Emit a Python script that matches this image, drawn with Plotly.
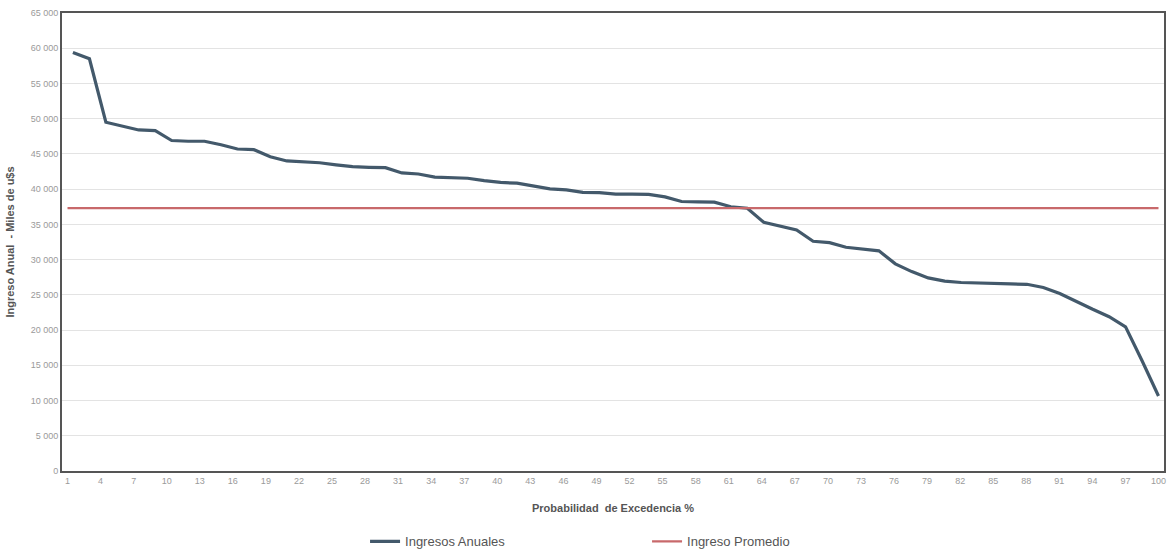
import plotly.graph_objects as go

# Probabilidad de excedencia (%) de cada año de la serie
prob_excedencia = [1.49, 2.99, 4.48, 5.97, 7.46, 8.96, 10.45, 11.94, 13.43, 14.93,
                   16.42, 17.91, 19.40, 20.90, 22.39, 23.88, 25.37, 26.87, 28.36, 29.85,
                   31.34, 32.84, 34.33, 35.82, 37.31, 38.81, 40.30, 41.79, 43.28, 44.78,
                   46.27, 47.76, 49.25, 50.75, 52.24, 53.73, 55.22, 56.72, 58.21, 59.70,
                   61.19, 62.69, 64.18, 65.67, 67.16, 68.66, 70.15, 71.64, 73.13, 74.63,
                   76.12, 77.61, 79.10, 80.60, 82.09, 83.58, 85.07, 86.57, 88.06, 89.55,
                   91.04, 92.54, 94.03, 95.52, 97.01, 98.51, 100.00]

# Ingresos anuales (miles de u$s)
ingresos_anuales = [59400, 58500, 49500, 48900, 48400, 48300, 46900, 46800, 46800, 46300,
                    45700, 45600, 44600, 44000, 43900, 43750, 43450, 43200, 43100, 43050,
                    42300, 42150, 41700, 41650, 41550, 41200, 40950, 40850, 40450, 40050,
                    39900, 39550, 39500, 39300, 39300, 39250, 38900, 38250, 38200, 38150,
                    37500, 37300, 35300, 34700, 34200, 32600, 32400, 31750, 31500, 31250,
                    29400, 28300, 27400, 26950, 26750, 26650, 26600, 26550, 26500, 26050,
                    25200, 24050, 22950, 21900, 20450, 15650, 10650]

# Ingreso promedio
promedio_x = [1, 100]
promedio_y = [37300, 37300]

# Etiquetas del eje X
x_ticks = [1, 4, 7, 10, 13, 16, 19, 22, 25, 28, 31, 34, 37, 40, 43, 46, 49, 52, 55,
           58, 61, 64, 67, 70, 73, 76, 79, 82, 85, 88, 91, 94, 97, 100]

FONT = "Liberation Sans, Arial, sans-serif"

fig = go.Figure()
fig.add_trace(go.Scatter(
    x=prob_excedencia, y=ingresos_anuales, mode="lines",
    name="Ingresos Anuales",
    line=dict(color="#43596b", width=3.2),
))
fig.add_trace(go.Scatter(
    x=promedio_x, y=promedio_y, mode="lines",
    name="Ingreso Promedio",
    line=dict(color="#c8696b", width=2.2),
))

fig.update_layout(
    width=1168, height=551,
    margin=dict(l=62, r=4, t=13, b=80, autoexpand=False),
    paper_bgcolor="white", plot_bgcolor="white",
    separators=", ",
    font=dict(family=FONT, color="#555555"),
    showlegend=True,
    legend=dict(
        orientation="h", x=0.275, xanchor="left", y=-0.121, yanchor="top",
        font=dict(size=13, color="#555555", family=FONT),
        entrywidth=237, entrywidthmode="pixels",
        itemwidth=30, tracegroupgap=0,
    ),
    xaxis=dict(
        range=[0.5, 100.5], automargin=False,
        tickmode="array", tickvals=x_ticks, ticktext=[str(t) for t in x_ticks],
        tickfont=dict(size=9, color="#9a9a9a", family=FONT),
        showgrid=False, zeroline=False,
        showline=True, linecolor="#555555", linewidth=2, mirror=True,
        ticks="", ticklen=0,
        title=dict(text="<b>Probabilidad  de Excedencia %</b>",
                   font=dict(size=11, color="#555555", family=FONT), standoff=20),
    ),
    yaxis=dict(
        range=[0, 65000], dtick=5000, tickformat=",d", automargin=False,
        tickfont=dict(size=9, color="#9a9a9a", family=FONT),
        showgrid=True, gridcolor="#e3e3e3", gridwidth=1,
        zeroline=False,
        showline=True, linecolor="#555555", linewidth=2, mirror=True,
        ticks="", ticklen=0,
        title=dict(text="<b>Ingreso Anual  - Miles de u$s</b>",
                   font=dict(size=11, color="#555555", family=FONT), standoff=14),
    ),
)

fig.write_html(
    "out.html",
    config={"displayModeBar": False},
    post_script="document.body.style.margin='0';"
                "document.body.style.overflow='hidden';"
                "document.documentElement.style.overflow='hidden';",
)
